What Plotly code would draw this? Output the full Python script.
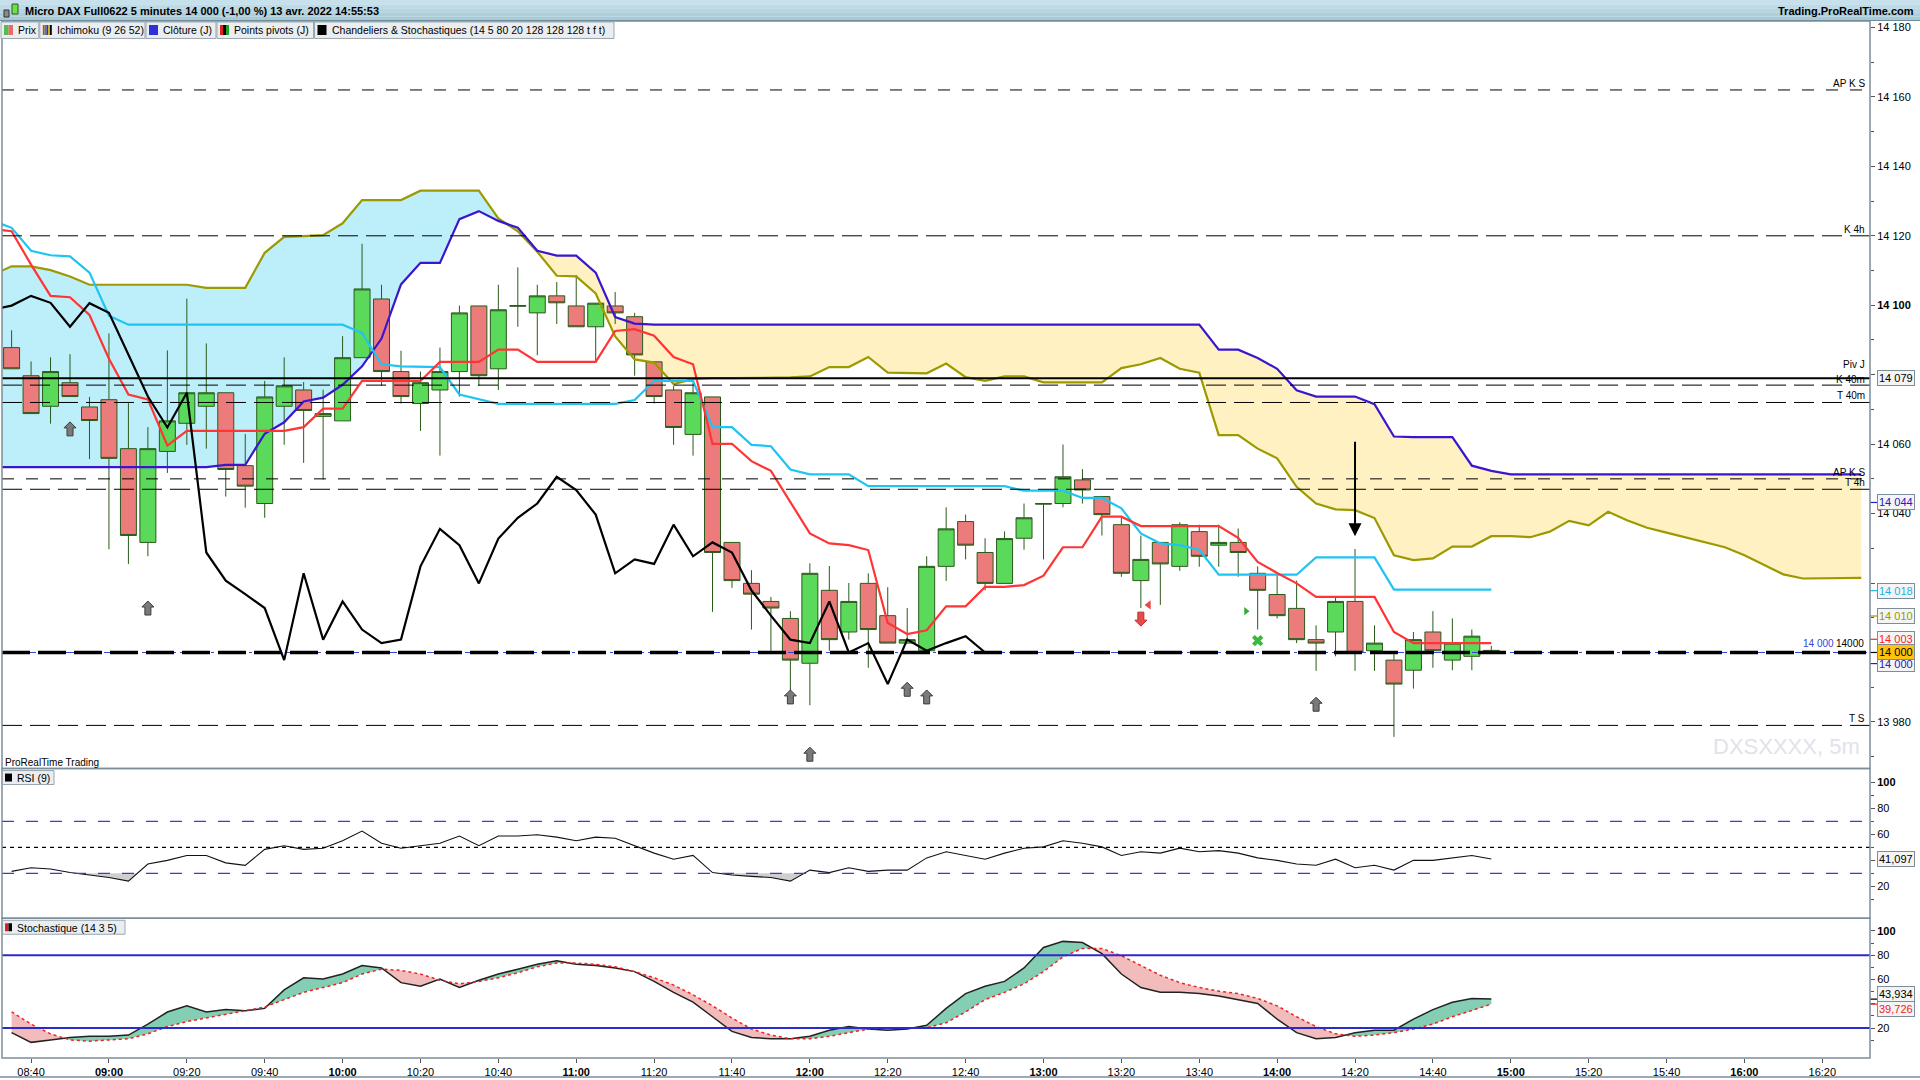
import plotly.graph_objects as go

W, H = 1920, 1080
ML, MR, MT, MB = 2, 50, 21, 20
PW, PH = W - ML - MR, H - MT - MB
FONT = "Liberation Sans"


def fx(p):
    return (p - ML) / PW


def fy(p):
    return (H - MB - p) / PH


def slot(t):
    h, m = t.split(":")
    return (int(h) * 60 + int(m) - (8 * 60 + 35)) / 5


def times_from(start, n):
    h, m = map(int, start.split(":"))
    s = h * 60 + m
    return [f"{(s + 5 * k) // 60:02d}:{(s + 5 * k) % 60:02d}" for k in range(n)]


# ---------------- data ----------------
candle_times = times_from("08:35", 77)
line_times = times_from("08:30", 78)
cloud_times = times_from("08:30", 97)

opens = [14087.8, 14079.7, 14070.9, 14077.7, 14070.7, 14072.8, 14058.7, 14031.7, 14057.9, 14066.0,
         14070.9, 14074.8, 14053.8, 14042.9, 14070.9, 14075.6, 14068.0, 14066.7, 14084.9, 14101.8,
         14080.9, 14071.7, 14075.6, 14080.9, 14099.8, 14081.7, 14099.7, 14097.8, 14102.7, 14099.8,
         14093.8, 14099.8, 14096.7, 14083.7, 14075.6, 14062.8, 14073.6, 14031.7, 14019.9, 14014.7,
         14009.8, 13996.9, 14017.9, 14005.9, 14019.9, 14010.6, 14002.7, 14000.5, 14024.8, 14037.7,
         14028.8, 14019.9, 14032.9, 14042.7, 14042.9, 14049.7, 14044.9, 14036.8, 14020.7, 14031.7,
         14024.8, 14034.8, 14030.9, 14031.7, 14022.8, 14016.7, 14012.7, 14003.7, 14005.9, 14014.7,
         14000.5, 13997.8, 13994.9, 14005.9, 13997.8, 13998.9, 14000.6]
highs = [14092.8, 14083.8, 14085.0, 14085.9, 14073.6, 14091.9, 14071.8, 14064.9, 14087.0, 14101.9,
         14089.0, 14074.8, 14062.9, 14078.2, 14085.0, 14077.9, 14075.7, 14091.1, 14117.7, 14105.9,
         14086.9, 14080.9, 14087.8, 14099.9, 14099.8, 14105.9, 14110.9, 14105.9, 14106.7, 14108.7,
         14100.6, 14103.8, 14097.8, 14083.7, 14076.8, 14077.7, 14073.6, 14031.7, 14023.7, 14016.0,
         14011.9, 14025.7, 14024.9, 14020.0, 14022.8, 14018.8, 14012.8, 14027.7, 14041.8, 14039.7,
         14032.9, 14034.9, 14042.9, 14043.0, 14059.9, 14052.8, 14044.9, 14038.8, 14033.7, 14031.7,
         14037.5, 14036.8, 14036.8, 14035.7, 14024.8, 14022.3, 14020.7, 14007.8, 14015.7, 14029.8,
         14007.8, 13999.5, 14005.9, 14011.9, 14009.8, 14006.6, 14001.9]
lows = [14081.7, 14068.8, 14065.9, 14073.7, 14055.7, 14029.7, 14025.5, 14027.7, 14051.7, 14059.8,
        14058.7, 14044.9, 14041.7, 14038.8, 14059.8, 14054.6, 14049.8, 14066.7, 14084.9, 14076.8,
        14071.7, 14063.8, 14056.7, 14073.7, 14076.8, 14075.6, 14093.8, 14085.6, 14094.6, 14093.8,
        14084.0, 14094.6, 14079.7, 14071.7, 14059.8, 14056.7, 14011.7, 14018.6, 14006.6, 14000.5,
        13987.6, 13984.8, 14000.5, 14003.7, 13995.6, 14002.7, 14002.7, 14000.5, 14020.6, 14026.8,
        14017.9, 14019.9, 14029.6, 14026.8, 14041.8, 14042.9, 14033.7, 14021.8, 14012.8, 14013.7,
        14023.5, 14024.7, 14024.7, 14021.8, 14006.6, 14009.8, 14002.7, 13994.7, 13998.9, 13994.7,
        13994.7, 13975.7, 13989.6, 13995.6, 13994.9, 13994.9, 13999.8]
closes = [14081.7, 14068.8, 14080.9, 14073.7, 14066.8, 14055.9, 14033.7, 14058.7, 14066.7, 14074.8,
          14074.8, 14052.7, 14047.9, 14073.6, 14076.8, 14069.7, 14068.8, 14084.9, 14104.7, 14080.9,
          14073.7, 14077.7, 14080.9, 14097.8, 14079.7, 14098.7, 14099.9, 14102.7, 14100.7, 14093.8,
          14100.6, 14097.8, 14085.7, 14073.7, 14064.8, 14074.8, 14028.8, 14020.7, 14016.8, 14012.8,
          13997.8, 14022.8, 14003.7, 14014.7, 14006.6, 14002.7, 14003.7, 14024.8, 14035.6, 14030.9,
          14019.9, 14032.8, 14038.8, 14042.9, 14050.6, 14046.8, 14039.7, 14022.8, 14026.8, 14025.5,
          14036.8, 14027.7, 14031.7, 14028.8, 14017.9, 14010.6, 14003.7, 14002.7, 14014.7, 14000.0,
          14002.7, 13990.9, 14003.7, 14000.5, 14002.7, 14004.7, 14000.0]

tenkan = [14122.0, 14121.3, 14111.7, 14102.7, 14102.3, 14097.2, 14084.6, 14074.3, 14072.9, 14059.6,
          14063.8, 14063.8, 14063.8, 14063.8, 14063.8, 14063.8, 14064.9, 14070.2, 14070.2, 14078.2,
          14078.2, 14078.2, 14078.2, 14083.7, 14083.7, 14083.7, 14087.2, 14087.2, 14083.7, 14083.7,
          14083.7, 14083.7, 14092.6, 14093.1, 14091.2, 14085.1, 14083.0, 14060.1, 14060.1, 14055.1,
          14052.3, 14043.1, 14034.3, 14031.4, 14030.9, 14029.5, 14008.5, 14005.3, 14006.4, 14013.3,
          14013.3, 14018.9, 14018.9, 14019.4, 14022.1, 14030.3, 14030.3, 14039.1, 14039.1, 14036.4,
          14036.4, 14036.4, 14036.4, 14036.4, 14033.0, 14026.1, 14022.9, 14019.9, 14016.0, 14016.0,
          14016.0, 14016.0, 14005.9, 14002.7, 14002.7, 14002.7, 14002.7, 14002.7]
kijun = [14124.4, 14122.3, 14115.7, 14114.4, 14114.1, 14109.4, 14097.0, 14094.4, 14094.4, 14094.4,
         14094.4, 14094.4, 14094.4, 14094.4, 14094.4, 14094.4, 14094.4, 14094.4, 14094.4, 14092.0,
         14083.0, 14082.4, 14082.2, 14082.2, 14074.3, 14072.9, 14071.6, 14071.6, 14071.6, 14071.6,
         14071.6, 14071.6, 14071.6, 14072.7, 14078.2, 14078.2, 14078.2, 14064.9, 14064.9, 14059.8,
         14059.4, 14052.7, 14051.3, 14051.3, 14051.3, 14047.9, 14047.9, 14047.9, 14047.9, 14047.9,
         14047.9, 14047.9, 14047.9, 14046.6, 14046.6, 14046.6, 14044.5, 14044.5, 14041.5, 14034.3,
         14031.4, 14030.9, 14029.6, 14022.4, 14022.4, 14022.4, 14022.4, 14022.4, 14027.4, 14027.4,
         14027.4, 14027.4, 14018.1, 14018.1, 14018.1, 14018.1, 14018.1, 14018.1]
senkou_a = [14108.7, 14111.2, 14111.2, 14110.1, 14108.3, 14105.9, 14105.9, 14105.9, 14105.9, 14105.9,
            14105.9, 14105.0, 14105.0, 14105.0, 14115.1, 14119.7, 14119.9, 14120.2, 14123.6, 14130.3,
            14130.3, 14130.3, 14133.0, 14133.0, 14133.0, 14133.0, 14125.0, 14121.3, 14115.4, 14108.5,
            14108.3, 14103.4, 14091.0, 14084.4, 14083.5, 14077.3, 14078.7, 14079.0, 14079.0, 14079.0,
            14079.0, 14079.2, 14079.5, 14082.2, 14082.2, 14085.1, 14080.6, 14080.4, 14080.4, 14083.2,
            14079.3, 14078.2, 14079.5, 14079.5, 14077.8, 14077.8, 14077.8, 14077.8, 14081.9, 14083.0,
            14084.8, 14081.7, 14080.6, 14062.6, 14062.6, 14058.7, 14055.9, 14047.7, 14042.9, 14041.2,
            14041.0, 14038.7, 14028.0, 14026.6, 14027.1, 14030.5, 14030.5, 14033.5, 14033.5, 14033.2,
            14034.8, 14037.9, 14036.6, 14040.5, 14038.0, 14035.9, 14034.5, 14033.1, 14031.5, 14030.3,
            14028.0, 14025.3, 14022.5, 14021.3, 14021.3, 14021.5, 14021.5]
senkou_b = [14053.4, 14053.4, 14053.4, 14053.4, 14053.4, 14053.4, 14053.4, 14053.4, 14053.4, 14053.4,
            14053.4, 14053.4, 14054.0, 14054.0, 14063.0, 14066.3, 14072.3, 14073.4, 14077.1, 14082.4,
            14090.4, 14106.0, 14112.2, 14112.2, 14124.8, 14127.1, 14124.3, 14122.3, 14115.7, 14114.3,
            14114.3, 14109.4, 14096.6, 14094.7, 14094.4, 14094.4, 14094.4, 14094.4, 14094.4, 14094.4,
            14094.4, 14094.4, 14094.4, 14094.4, 14094.4, 14094.4, 14094.4, 14094.4, 14094.4, 14094.4,
            14094.4, 14094.4, 14094.4, 14094.4, 14094.4, 14094.4, 14094.4, 14094.4, 14094.4, 14094.4,
            14094.4, 14094.4, 14094.4, 14087.2, 14087.2, 14084.8, 14081.7, 14075.5, 14073.7, 14073.7,
            14073.7, 14071.5, 14062.2, 14062.0, 14062.0, 14062.0, 14053.8, 14052.3, 14051.3, 14051.3,
            14051.3, 14051.3, 14051.3, 14051.3, 14051.3, 14051.3, 14051.3, 14051.3, 14051.3, 14051.3,
            14051.3, 14051.3, 14051.3, 14051.3, 14051.3, 14051.3, 14051.3]

rsi = [31.5, 34.3, 33.4, 30.6, 28.7, 26.8, 24.0, 37.2, 40.0, 43.8,
       43.8, 38.1, 36.2, 48.5, 51.3, 48.5, 49.4, 55.1, 62.6, 53.2,
       49.4, 51.3, 53.2, 58.8, 51.3, 58.8, 58.8, 59.8, 57.9, 55.1,
       57.9, 57.0, 51.3, 45.6, 40.9, 43.8, 30.6, 28.7, 27.7, 26.8,
       24.0, 32.5, 30.6, 34.3, 31.5, 32.5, 32.5, 41.9, 46.6, 43.8,
       40.9, 45.6, 49.4, 50.4, 55.1, 53.2, 50.4, 43.8, 46.6, 45.6,
       49.4, 46.6, 47.5, 45.6, 41.9, 40.0, 37.2, 36.2, 40.9, 34.3,
       36.2, 32.5, 40.0, 40.0, 41.9, 43.8, 41.1]
stoch_k = [16.2, 8.2, 10.2, 12.2, 13.2, 13.2, 14.2, 23.2, 33.2, 38.3,
           33.2, 35.2, 34.2, 36.2, 51.4, 61.4, 60.4, 64.5, 71.5, 69.5,
           57.4, 54.4, 60.4, 53.4, 59.4, 64.5, 68.5, 72.5, 75.5, 72.5,
           71.5, 69.5, 66.5, 58.4, 49.4, 41.3, 29.3, 17.2, 12.2, 11.2,
           11.2, 13.2, 18.2, 21.2, 19.2, 18.2, 19.2, 22.2, 36.2, 48.4,
           54.4, 58.4, 69.5, 86.4, 91.4, 90.4, 81.3, 64.5, 53.4, 49.4,
           49.4, 48.4, 46.4, 43.4, 40.3, 27.3, 16.2, 11.2, 12.2, 16.2,
           18.2, 18.2, 27.3, 35.2, 41.3, 44.4, 43.9]
stoch_d = [33.3, 23.2, 15.2, 10.2, 9.2, 10.2, 11.2, 15.2, 21.2, 25.3,
           28.3, 31.3, 34.2, 37.3, 43.4, 49.4, 53.4, 57.4, 64.5, 68.5,
           67.5, 64.5, 59.4, 56.4, 58.4, 61.4, 65.5, 70.5, 73.5, 73.5,
           72.5, 70.5, 66.5, 61.4, 55.4, 47.4, 38.3, 28.3, 19.2, 14.2,
           11.2, 11.2, 13.2, 16.2, 19.2, 20.2, 20.2, 20.2, 24.3, 33.3,
           43.4, 49.4, 56.4, 66.5, 78.6, 85.6, 85.6, 79.6, 71.5, 63.5,
           57.4, 53.4, 50.4, 48.4, 44.4, 38.3, 29.3, 21.2, 15.2, 13.2,
           14.2, 16.2, 19.2, 23.2, 29.3, 34.2, 39.7]

level_names = ["AP K S", "K 4h", "Piv J", "K 40m", "T 40m", "AP K S", "T 4h", "T S"]
level_values = [14162, 14120, 14079, 14077, 14072, 14050, 14047, 13979]
level_dash = ["12px,12px", "20px,8px", "solid", "20px,8px", "20px,8px", "12px,12px", "20px,8px", "20px,8px"]
level_width = [1, 1, 2, 1, 1, 1, 1, 1]
level_label_yshift = [-1, -1, 6, -2, -1, -1, -1, -1]
round_level = 14000

up_arrow_times = ["08:50", "09:10", "11:55", "12:00", "12:25", "12:30", "14:10"]
up_arrow_prices = [14064.4, 14012.8, 13987.2, 13970.7, 13989.4, 13987.2, 13985.1]
down_arrow_times = ["13:25"]
down_arrow_prices = [14009.6]
signal_arrow_time = "14:20"
signal_arrow_from, signal_arrow_to = 14061.1, 14033.5

price_ticks = [13980, 14000, 14020, 14040, 14060, 14080, 14100, 14120, 14140, 14160, 14180]
price_ticks_hidden = [14000, 14020, 14080]   # covered by value boxes in the reference
x_tick_labels = ["08:40", "09:00", "09:20", "09:40", "10:00", "10:20", "10:40", "11:00", "11:20",
                 "11:40", "12:00", "12:20", "12:40", "13:00", "13:20", "13:40", "14:00", "14:20",
                 "14:40", "15:00", "15:20", "15:40", "16:00", "16:20"]

# right-axis value boxes: (value, text, text colour, background)
value_boxes = [(14079.0, "14 079", "#000000", "#f4f4f4"),
               (14043.2, "14 044", "#2020c8", "#f4f4f4"),
               (14017.8, "14 018", "#18b4e8", "#f4f4f4"),
               (14010.5, "14 010", "#999900", "#f4f4f4"),
               (13996.8, "14 000", "#2020c8", "#f4f4f4"),
               (14003.8, "14 003", "#ff2020", "#f4f4f4"),
               (14000.0, "14 000", "#000000", "#ffc20e")]

# ---------------- colours ----------------
C_TENKAN = "#ff3434"
C_KIJUN = "#1ec4f2"
C_SA = "#9c9a00"
C_SB = "#3a16cf"
C_CLOUD_UP = "#bdeffb"
C_CLOUD_DN = "#fff1c1"
AXC = "#7d8e9b"


def split_fill(xs, a, b):
    segs = []
    cx, ca, cb = [xs[0]], [a[0]], [b[0]]
    sign = a[0] >= b[0]
    for k in range(1, len(xs)):
        s = a[k] >= b[k]
        if s != sign:
            da = a[k] - a[k - 1]
            db = b[k] - b[k - 1]
            t = (b[k - 1] - a[k - 1]) / (da - db)
            xc = xs[k - 1] + t * (xs[k] - xs[k - 1])
            yc = a[k - 1] + t * da
            cx.append(xc); ca.append(yc); cb.append(yc)
            segs.append((cx, ca, cb, sign))
            cx, ca, cb = [xc], [yc], [yc]
            sign = s
        cx.append(xs[k]); ca.append(a[k]); cb.append(b[k])
    segs.append((cx, ca, cb, sign))
    return segs


fig = go.Figure()
shapes = []
ann = []

# cloud (as shapes below the traces so candles stay on top)
xc = [slot(t) for t in cloud_times]
for sx, sa, sb, pos in split_fill(xc, senkou_a, senkou_b):
    px_ = sx + sx[::-1]
    py_ = sa + sb[::-1]
    path = "M" + " L".join("%.4f,%.4f" % (u, v) for u, v in zip(px_, py_)) + " Z"
    shapes.append(dict(type="path", xref="x", yref="y", path=path,
                       fillcolor=C_CLOUD_UP if pos else C_CLOUD_DN, line=dict(width=0), layer="below"))

# candles
xk = [slot(t) for t in candle_times]
fig.add_trace(go.Candlestick(x=xk, open=opens, high=highs, low=lows, close=closes,
                             increasing=dict(fillcolor="#5bd95b", line=dict(color="#2a5a1a", width=1)),
                             decreasing=dict(fillcolor="#ec7c7c", line=dict(color="#2a5a1a", width=1)),
                             whiskerwidth=0, showlegend=False, hoverinfo="skip"))

# ichimoku lines
fig.add_trace(go.Scatter(x=xc, y=senkou_a, mode="lines", line=dict(color=C_SA, width=2.2), showlegend=False))
fig.add_trace(go.Scatter(x=xc, y=senkou_b, mode="lines", line=dict(color=C_SB, width=2.2), showlegend=False))
xl = [slot(t) for t in line_times]
fig.add_trace(go.Scatter(x=xl, y=kijun, mode="lines", line=dict(color=C_KIJUN, width=2.2), showlegend=False))
fig.add_trace(go.Scatter(x=xl, y=tenkan, mode="lines", line=dict(color=C_TENKAN, width=2.2), showlegend=False))
chikou = closes[25:]
xch = [slot(t) for t in times_from("08:30", len(chikou))]
fig.add_trace(go.Scatter(x=xch, y=chikou, mode="lines", line=dict(color="#000000", width=2.2), showlegend=False))

# small signals
fig.add_trace(go.Scatter(x=[slot("13:27")], y=[14013.7], mode="markers",
                         marker=dict(symbol="triangle-left", size=8, color="#ee4444"), showlegend=False))
fig.add_trace(go.Scatter(x=[slot("13:52")], y=[14011.9], mode="markers",
                         marker=dict(symbol="triangle-right", size=7, color="#33aa33"), showlegend=False))
fig.add_trace(go.Scatter(x=[slot("13:55")], y=[14003.4], mode="markers",
                         marker=dict(symbol="x", size=10, color="#3cb83c"), showlegend=False))

# RSI
xr = xk
for sx, sa, sb, pos in split_fill(xr, rsi, [30] * len(rsi)):
    if not pos:
        fig.add_trace(go.Scatter(x=sx + sx[::-1], y=sa + sb[::-1], fill="toself", fillcolor="#cfcfcf",
                                 line=dict(width=0), mode="lines", yaxis="y2", showlegend=False))
fig.add_trace(go.Scatter(x=xr, y=rsi, mode="lines", line=dict(color="#111111", width=1.1),
                         yaxis="y2", showlegend=False))

# Stochastic
for sx, sa, sb, pos in split_fill(xk, stoch_k, stoch_d):
    fig.add_trace(go.Scatter(x=sx + sx[::-1], y=sa + sb[::-1], fill="toself",
                             fillcolor="#84ceb3" if pos else "#f3bcbc", line=dict(width=0),
                             mode="lines", yaxis="y3", showlegend=False))
fig.add_trace(go.Scatter(x=xk, y=stoch_k, mode="lines", line=dict(color="#222222", width=1.5),
                         yaxis="y3", showlegend=False))
fig.add_trace(go.Scatter(x=xk, y=stoch_d, mode="lines", line=dict(color="#ee2222", width=1.5, dash="dot"),
                         yaxis="y3", showlegend=False))

# level lines
for name, val, dash, w, ys in zip(level_names, level_values, level_dash, level_width, level_label_yshift):
    shapes.append(dict(type="line", xref="x domain", yref="y", x0=0, x1=1, y0=val, y1=val,
                       line=dict(color="#000000", width=w, dash=dash), layer="above"))
    ann.append(dict(text=name, xref="paper", x=1, xanchor="right", xshift=-3, yref="y", y=val,
                    yanchor="bottom", yshift=ys, showarrow=False, font=dict(size=10, color="#000")))
shapes.append(dict(type="line", xref="x domain", yref="y", x0=0, x1=1, y0=round_level, y1=round_level,
                   line=dict(color="#3344dd", width=1, dash="3px,4px,8px,4px"), layer="above"))
shapes.append(dict(type="line", xref="x domain", yref="y", x0=0, x1=1, y0=round_level, y1=round_level,
                   line=dict(color="#000000", width=3.5, dash="28px,8px"), layer="above"))
ann.append(dict(text="14 000", xref="paper", x=1, xanchor="right", xshift=-34, yref="y", y=round_level,
                yanchor="bottom", yshift=1, showarrow=False, font=dict(size=10, color="#3344dd")))
ann.append(dict(text="14000", xref="paper", x=1, xanchor="right", xshift=-4, yref="y", y=round_level,
                yanchor="bottom", yshift=1, showarrow=False, font=dict(size=10, color="#000")))

# fat arrows
UP_PATH = "M0,7 L6,1 L3,1 L3,-7 L-3,-7 L-3,1 L-6,1 Z"
DN_PATH = "M0,-7 L6,-1 L3,-1 L3,7 L-3,7 L-3,-1 L-6,-1 Z"
for t, p in zip(up_arrow_times, up_arrow_prices):
    shapes.append(dict(type="path", xref="x", yref="y", xsizemode="pixel", ysizemode="pixel",
                       xanchor=slot(t), yanchor=p, path=UP_PATH, fillcolor="#7a7a7a",
                       line=dict(color="#3c3c3c", width=1), layer="above"))
for t, p in zip(down_arrow_times, down_arrow_prices):
    shapes.append(dict(type="path", xref="x", yref="y", xsizemode="pixel", ysizemode="pixel",
                       xanchor=slot(t), yanchor=p, path=DN_PATH, fillcolor="#ec4a4a",
                       line=dict(color="#b83030", width=1), layer="above"))
ann.append(dict(x=slot(signal_arrow_time), y=signal_arrow_to, ax=slot(signal_arrow_time), ay=signal_arrow_from,
                xref="x", yref="y", axref="x", ayref="y", showarrow=True, arrowhead=2, arrowsize=1.3,
                arrowwidth=2, arrowcolor="#000000", text=""))

# RSI / stochastic level lines
for v, d in [(70, "12px,12px"), (30, "12px,12px")]:
    shapes.append(dict(type="line", xref="x domain", yref="y2", x0=0, x1=1, y0=v, y1=v,
                       line=dict(color="#3a3ad8", width=1.2, dash=d), layer="above"))
shapes.append(dict(type="line", xref="x domain", yref="y2", x0=0, x1=1, y0=50, y1=50,
                   line=dict(color="#000000", width=1.2, dash="4px,4px"), layer="above"))
for v in (80, 20):
    shapes.append(dict(type="line", xref="x domain", yref="y3", x0=0, x1=1, y0=v, y1=v,
                       line=dict(color="#2b2bcc", width=2), layer="above"))

# value boxes on right axis
for v, txt, col, bg in value_boxes:
    if col != "#000000" or bg != "#f4f4f4":
        shapes.append(dict(type="line", xref="paper", yref="y", x0=1, x1=fx(1878), y0=v, y1=v,
                           line=dict(color=col if bg == "#f4f4f4" else "#000", width=1.2)))
    ann.append(dict(text=txt, xref="paper", x=fx(1877), xanchor="left", yref="y", y=v, yanchor="middle",
                    showarrow=False, bgcolor=bg, bordercolor=AXC, borderwidth=1, borderpad=1,
                    font=dict(size=11, color=col)))
ann.append(dict(text="41,097", xref="paper", x=fx(1877), xanchor="left", yref="y2", y=41.1, yanchor="middle",
                showarrow=False, bgcolor="#f4f4f4", bordercolor=AXC, borderwidth=1, borderpad=1,
                font=dict(size=11, color="#000")))
ann.append(dict(text="43,934", xref="paper", x=fx(1877), xanchor="left", yref="y3", y=47.9, yanchor="middle",
                showarrow=False, bgcolor="#f4f4f4", bordercolor=AXC, borderwidth=1, borderpad=1,
                font=dict(size=11, color="#000")))
ann.append(dict(text="39,726", xref="paper", x=fx(1877), xanchor="left", yref="y3", y=35.8, yanchor="middle",
                showarrow=False, bgcolor="#f4f4f4", bordercolor=AXC, borderwidth=1, borderpad=1,
                font=dict(size=11, color="#ee2222")))
shapes.append(dict(type="line", xref="paper", yref="y3", x0=1, x1=fx(1877), y0=43.9, y1=43.9,
                   line=dict(color="#000", width=1.2)))
shapes.append(dict(type="line", xref="paper", yref="y3", x0=1, x1=fx(1877), y0=39.7, y1=39.7,
                   line=dict(color="#ee2222", width=1.2)))

# watermark & small texts
ann.append(dict(text="DXSXXXX, 5m", xref="paper", x=1, xanchor="right", xshift=-8, yref="y", y=13972.9,
                yanchor="middle", showarrow=False, font=dict(size=22, color="#e2e2ea")))
ann.append(dict(text="ProRealTime Trading", xref="paper", x=fx(3), xanchor="left", yref="paper", y=fy(764),
                yanchor="middle", showarrow=False, font=dict(size=10, color="#000")))

# panel borders
dom_price = [fy(770), 1.0]
dom_rsi = [fy(920), fy(770)]
dom_sto = [0.0, fy(920)]
for d in (dom_price, dom_rsi, dom_sto):
    shapes.append(dict(type="rect", xref="paper", yref="paper", x0=0, x1=1, y0=d[0], y1=d[1],
                       line=dict(color=AXC, width=1.5), layer="above"))
shapes.append(dict(type="line", xref="paper", yref="paper", x0=fx(0), x1=fx(W), y0=fy(1079), y1=fy(1079),
                   line=dict(color=AXC, width=1.5)))

# header bar (soft vertical gradient)
header_cols = ["#c6e1eb", "#bddbe6", "#b5d5e1", "#adcfdc", "#a6cad8"]
band = 20.5 / len(header_cols)
for k, c in enumerate(header_cols):
    shapes.append(dict(type="rect", xref="paper", yref="paper", x0=fx(0), x1=fx(W), y0=fy((k + 1) * band),
                       y1=fy(k * band), fillcolor=c, line=dict(width=0)))
shapes.append(dict(type="line", xref="paper", yref="paper", x0=fx(0), x1=fx(W), y0=fy(20.5), y1=fy(20.5),
                   line=dict(color="#6f8c9a", width=1)))
# header icon
shapes.append(dict(type="rect", xref="paper", yref="paper", x0=fx(4), x1=fx(9), y0=fy(17), y1=fy(10),
                   fillcolor="#8a8a8a", line=dict(color="#333", width=1)))
shapes.append(dict(type="rect", xref="paper", yref="paper", x0=fx(12), x1=fx(18), y0=fy(14), y1=fy(4),
                   fillcolor="#6ee04a", line=dict(color="#2a5a1a", width=1)))
ann.append(dict(text="<b>Micro DAX Full0622 5 minutes 14 000 (-1,00 %) 13 avr. 2022 14:55:53</b>",
                xref="paper", x=fx(23), xanchor="left", yref="paper", y=fy(11), yanchor="middle",
                showarrow=False, font=dict(size=11, color="#000")))
ann.append(dict(text="<b>Trading.ProRealTime.com</b>", xref="paper", x=fx(1916), xanchor="right",
                yref="paper", y=fy(11), yanchor="middle", showarrow=False, font=dict(size=11, color="#000")))

# legend row
legend_items = ["Prix", "Ichimoku (9 26 52)", "Clôture (J)", "Points pivots (J)",
                "Chandeliers & Stochastiques (14 5 80 20 128 128 128 t f t)"]
legend_edges = [0, 38.8, 145, 216, 313.5, 614]
legend_icons = [["#4fc04f", "#e86a6a"], ["#d83a3a", "#3a9a3a", "#3030d0", "#c8b000", "#000000"],
                ["#3030d8"], ["#e02020", "#000000", "#20a020"], ["#000000"]]
for k, txt in enumerate(legend_items):
    x0, x1 = legend_edges[k], legend_edges[k + 1]
    shapes.append(dict(type="rect", xref="paper", yref="paper", x0=fx(x0 + 1), x1=fx(x1), y0=fy(38.5),
                       y1=fy(22), fillcolor="#eaeef1", line=dict(color="#9aa6af", width=1)))
    cols = legend_icons[k]
    iw = 9.0 / len(cols)
    for j, c in enumerate(cols):
        shapes.append(dict(type="rect", xref="paper", yref="paper", x0=fx(x0 + 4 + j * iw),
                           x1=fx(x0 + 4 + (j + 1) * iw), y0=fy(35), y1=fy(25), fillcolor=c,
                           line=dict(width=0)))
    ann.append(dict(text=txt, xref="paper", x=fx(x0 + 16), xanchor="left", yref="paper", y=fy(30.3),
                    yanchor="middle", showarrow=False, font=dict(size=10.5, color="#000")))

# indicator panel labels
for (x1, ytop, txt, cols) in [(54, 772, "RSI (9)", ["#000000"]),
                              (125, 922, "Stochastique (14 3 5)", ["#e02020", "#000000"])]:
    shapes.append(dict(type="rect", xref="paper", yref="paper", x0=fx(2.5), x1=fx(x1), y0=fy(ytop + 14),
                       y1=fy(ytop), fillcolor="#eaeef1", line=dict(color="#9aa6af", width=1)))
    iw = 7.0 / len(cols)
    for j, c in enumerate(cols):
        shapes.append(dict(type="rect", xref="paper", yref="paper", x0=fx(5 + j * iw), x1=fx(5 + (j + 1) * iw),
                           y0=fy(ytop + 11), y1=fy(ytop + 3), fillcolor=c, line=dict(width=0)))
    ann.append(dict(text=txt, xref="paper", x=fx(15), xanchor="left", yref="paper", y=fy(ytop + 7.3),
                    yanchor="middle", showarrow=False, font=dict(size=10.5, color="#000")))


def price_label(v):
    if v in price_ticks_hidden:
        return ""
    s = "%d %03d" % (v // 1000, v % 1000)
    return "<b>%s</b>" % s if v % 100 == 0 else s


price_ticktext = [price_label(v) for v in price_ticks]
x_ticktext = ["<b>%s</b>" % t if t.endswith(":00") else t for t in x_tick_labels]

yax_common = dict(side="right", anchor="x", showgrid=False, zeroline=False, showline=False,
                  ticks="outside", ticklen=4, tickcolor="#555", tickfont=dict(size=11, color="#000"),
                  fixedrange=True)
osc_ticks = [20, 40, 60, 80, 100]
osc_ticktext = ["20", "", "60", "80", "<b>100</b>"]   # 40 hidden under the value boxes

fig.update_layout(
    width=W, height=H, margin=dict(l=ML, r=MR, t=MT, b=MB),
    paper_bgcolor="white", plot_bgcolor="white", showlegend=False,
    boxgap=0.18, boxgroupgap=0, hovermode=False,
    font=dict(family=FONT, size=11, color="#000"),
    xaxis=dict(domain=[0, 1], range=[-0.493, 95.45], anchor="y3", tickmode="array",
               tickvals=[slot(t) for t in x_tick_labels], ticktext=x_ticktext, ticks="outside",
               ticklen=4, tickcolor="#555", tickfont=dict(size=11, color="#000"), showgrid=False,
               zeroline=False, showline=False, rangeslider=dict(visible=False), fixedrange=True),
    yaxis=dict(domain=dom_price, range=[13966.57, 14181.86], tickmode="array", tickvals=price_ticks,
               ticktext=price_ticktext,
               minor=dict(tickmode="array", tickvals=[v + 10 for v in price_ticks[:-1]] + [13970],
                          ticks="outside", ticklen=3, tickcolor="#555"),
               **yax_common),
    yaxis2=dict(domain=dom_rsi, range=[-4.62, 110.77], tickmode="array", tickvals=osc_ticks,
                ticktext=osc_ticktext,
                minor=dict(tickmode="array", tickvals=[10, 30, 50, 70, 90], ticks="outside", ticklen=3,
                           tickcolor="#555"),
                **yax_common),
    yaxis3=dict(domain=dom_sto, range=[-4.69, 110.44], tickmode="array", tickvals=osc_ticks,
                ticktext=osc_ticktext,
                minor=dict(tickmode="array", tickvals=[10, 30, 50, 70, 90], ticks="outside", ticklen=3,
                           tickcolor="#555"),
                **yax_common),
    shapes=shapes, annotations=ann,
)

fig.write_html("out.html", config={"displayModeBar": False},
               post_script="document.body.style.margin='0';document.body.style.overflow='hidden';")
